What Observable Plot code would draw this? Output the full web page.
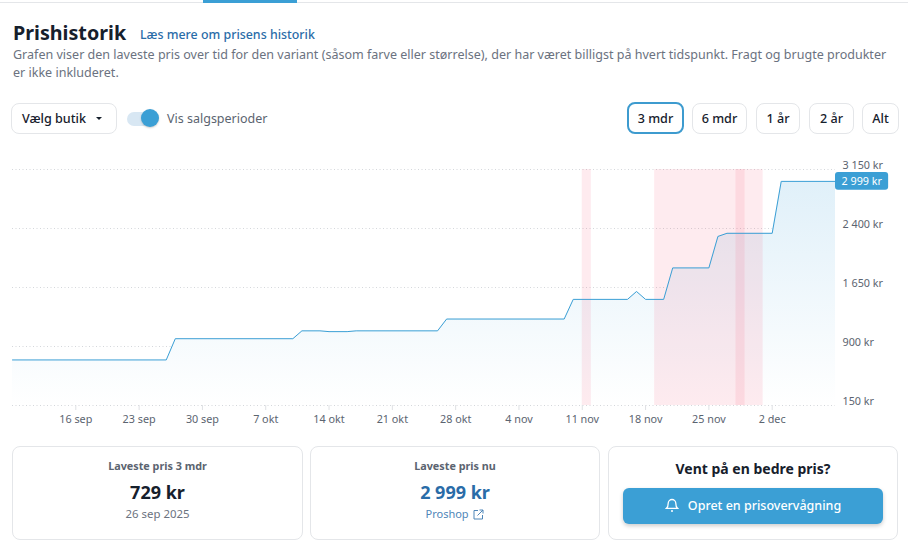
<!DOCTYPE html>
<html lang="da">
<head>
<meta charset="utf-8">
<script src="https://cdn.jsdelivr.net/npm/d3@7"></script>
<script src="https://cdn.jsdelivr.net/npm/@observablehq/plot@0.6"></script>
<style>
  html, body { margin: 0; background: #fff; }
  body { position: relative; width: 908px; height: 551px; overflow: hidden; font-family: "Noto Sans", sans-serif; color: #16202c; }
  .abs { position: absolute; white-space: nowrap; }
  .box { position: absolute; box-sizing: border-box; border: 1px solid #e4e6e9; border-radius: 8px; }
  .btn { text-align: center; font-size: 12.6px; line-height: 29px; height: 31px; font-weight: 500; }
  .center { position: absolute; left: 0; right: 0; text-align: center; white-space: nowrap; }
  #chart { position: absolute; left: 0; top: 150px; }
  #chart svg { display: block; }
</style>
</head>
<body>
<div class="abs" style="left:0;top:2px;width:908px;height:1px;background:#e4e6e9"></div>
<div class="abs" style="left:203px;top:0;width:94px;height:3px;background:#3b9fd5"></div>

<div class="abs" style="left:13px;top:19px;font-size:19.700px;font-weight:700;line-height:28px">Prishistorik</div>
<div class="abs" style="left:140px;top:26px;font-size:12.400px;line-height:18px;font-weight:500;color:#2a6ca8">Læs mere om prisens historik</div>
<div class="abs" style="left:13px;top:46px;font-size:12.540px;line-height:18px;color:#6b7280">Grafen viser den laveste pris over tid for den variant (såsom farve eller størrelse), der har været billigst på hvert tidspunkt. Fragt og brugte produkter</div>
<div class="abs" style="left:13px;top:64px;font-size:12.540px;line-height:18px;color:#6b7280">er ikke inkluderet.</div>

<div class="box btn" style="left:11px;top:103px;width:106px;text-align:left;padding-left:10px">Vælg butik</div>
<div class="abs" style="left:96px;top:117px;width:0;height:0;border:3.5px solid transparent;border-top:3.5px solid #16202c"></div>
<div class="abs" style="left:127px;top:112px;width:30px;height:14px;border-radius:7px;background:#d8e7f3"></div>
<div class="abs" style="left:141px;top:109px;width:18px;height:18px;border-radius:50%;background:#3b9fd5;box-shadow:0 1px 2px rgba(0,0,0,.2)"></div>
<div class="abs" style="left:167px;top:110px;font-size:12.500px;line-height:18px;color:#5b6470">Vis salgsperioder</div>

<div class="box btn" style="left:627px;top:102px;width:57px;height:32px;border:2px solid #3d9bcf">3 mdr</div>
<div class="box btn" style="left:692px;top:103px;width:55px">6 mdr</div>
<div class="box btn" style="left:756px;top:103px;width:44px">1 år</div>
<div class="box btn" style="left:809px;top:103px;width:45px">2 år</div>
<div class="box btn" style="left:862px;top:103px;width:37px">Alt</div>

<div id="chart"></div>

<div class="box" style="left:12px;top:446px;width:291px;height:94px">
  <div class="center" style="top:11px;font-size:10.800px;line-height:16px;font-weight:700;color:#5b6470">Laveste pris 3 mdr</div>
  <div class="center" style="top:32px;font-size:18px;line-height:26px;font-weight:700">729 kr</div>
  <div class="center" style="top:59px;font-size:11.400px;line-height:16px;color:#6b7280">26 sep 2025</div>
</div>
<div class="box" style="left:310px;top:446px;width:290px;height:94px">
  <div class="center" style="top:11px;font-size:10.800px;line-height:16px;font-weight:700;color:#5b6470">Laveste pris nu</div>
  <div class="center" style="top:32px;font-size:18px;line-height:26px;font-weight:700;color:#2a6ca8">2 999 kr</div>
  <div class="center" style="top:59px;font-size:11px;line-height:16px;color:#4f86b8">Proshop
    <svg width="11" height="11" viewBox="0 0 11 11" style="vertical-align:-2px;margin-left:2px" fill="none" stroke="#4f86b8" stroke-width="1"><path d="M5 1.500H1v8.500h8.500V6M6.500 1h3.500v3.500M10 1L4.500 6.500"/></svg>
  </div>
</div>
<div class="box" style="left:608px;top:446px;width:290px;height:94px">
  <div class="center" style="top:12px;font-size:14px;line-height:20px;font-weight:700">Vent på en bedre pris?</div>
  <div class="abs" style="left:14px;top:41px;width:260px;height:36px;border-radius:6px;background:#3b9fd5;box-shadow:0 2px 4px rgba(0,0,0,.2);color:#fff;font-size:12.500px;line-height:35px;text-align:center;font-weight:500">
    <svg width="14" height="15" viewBox="0 0 14 15" style="vertical-align:-3px;margin-right:9px" fill="none" stroke="#fff" stroke-width="1.300"><path d="M7 1.500a3.800 3.800 0 0 0-3.800 3.800c0 3.500-1.700 5-1.700 5h11s-1.700-1.500-1.700-5A3.800 3.800 0 0 0 7 1.500zM6 13h2"/></svg>Opret en prisovervågning
  </div>
</div>

<script>
const priceDates = ["2025-09-09", "2025-09-26", "2025-09-27", "2025-10-10", "2025-10-11", "2025-10-13", "2025-10-14",
  "2025-10-16", "2025-10-17", "2025-10-26", "2025-10-27", "2025-11-09", "2025-11-10", "2025-11-16", "2025-11-17",
  "2025-11-18", "2025-11-20", "2025-11-21", "2025-11-25", "2025-11-26", "2025-11-27", "2025-12-02", "2025-12-03", "2025-12-09"];
const priceValues = [729, 729, 999, 999, 1099, 1099, 1089, 1089, 1099, 1099, 1249, 1249, 1499, 1499, 1599,
  1499, 1499, 1899, 1899, 2299, 2339, 2339, 2999, 2999];

const saleStarts = ["2025-11-11", "2025-11-19", "2025-11-28"];
const saleEnds = ["2025-11-12", "2025-12-01", "2025-11-29"];

const yTicks = [150, 900, 1650, 2400, 3150];
const xTickDates = ["2025-09-16", "2025-09-23", "2025-09-30", "2025-10-07", "2025-10-14", "2025-10-21",
  "2025-10-28", "2025-11-04", "2025-11-11", "2025-11-18", "2025-11-25", "2025-12-02"];
const xTickLabels = ["16 sep", "23 sep", "30 sep", "7 okt", "14 okt", "21 okt", "28 okt", "4 nov", "11 nov", "18 nov", "25 nov", "2 dec"];

const currentPrice = 2999;

const parse = (s) => new Date(s);
const prices = priceDates.map((d, i) => ({date: parse(d), price: priceValues[i]}));
const sales = saleStarts.map((d, i) => ({start: parse(d), end: parse(saleEnds[i])}));
const lastDate = prices[prices.length - 1].date;
const kr = (v) => d3.format(",")(v).replace(/,/g, " ") + " kr";

const gradient = () => {
  const defs = d3.create("svg:defs");
  const g = defs.append("linearGradient").attr("id", "priceFade").attr("x1", 0).attr("x2", 0).attr("y1", 0).attr("y2", 1);
  g.append("stop").attr("offset", "0%").attr("stop-color", "#e0f0f9");
  g.append("stop").attr("offset", "100%").attr("stop-color", "#ffffff");
  return defs.node();
};

const chart = Plot.plot({
  width: 908,
  height: 280,
  marginLeft: 12,
  marginRight: 73,
  marginTop: 19,
  marginBottom: 25,
  style: {fontFamily: '"Noto Sans", sans-serif', fontSize: "10.800px", overflow: "visible"},
  x: {type: "utc", domain: [parse("2025-09-09"), lastDate]},
  y: {domain: [150, 3150]},
  marks: [
    gradient,
    Plot.ruleY(yTicks, {stroke: "#d4d7db", strokeDasharray: "1 2.500"}),
    Plot.areaY(prices, {x: "date", y1: 150, y2: "price", fill: "url(#priceFade)"}),
    Plot.rectY(sales, {x1: "start", x2: "end", y1: 150, y2: 3150, fill: "#f43f5e", fillOpacity: 0.1}),
    Plot.line(prices, {x: "date", y: "price", stroke: "#3b9fd5", strokeWidth: 1}),
    Plot.axisX({
      ticks: xTickDates.map(parse),
      tickFormat: (d, i) => xTickLabels[i],
      tickSize: 5,
      tickPadding: 5,
      stroke: "#dfe1e4",
      fill: "#5b6470",
      label: null
    }),
    Plot.axisY({
      anchor: "right",
      ticks: yTicks,
      tickFormat: kr,
      tickSize: 0,
      tickPadding: 7,
      dy: -3.5,
      fill: "#5b6470",
      label: null
    }),
    Plot.rectY([currentPrice], {
      x1: () => lastDate,
      x2: () => d3.utcHour.offset(lastDate, 141),
      y1: (d) => d - 112,
      y2: (d) => d + 112,
      fill: "#3b9fd5",
      rx: 3
    }),
    Plot.text([currentPrice], {
      x: () => lastDate,
      y: (d) => d,
      text: kr,
      dx: 6,
      textAnchor: "start",
      fill: "#fff"
    })
  ]
});
document.getElementById("chart").append(chart);
</script>
</body>
</html>
